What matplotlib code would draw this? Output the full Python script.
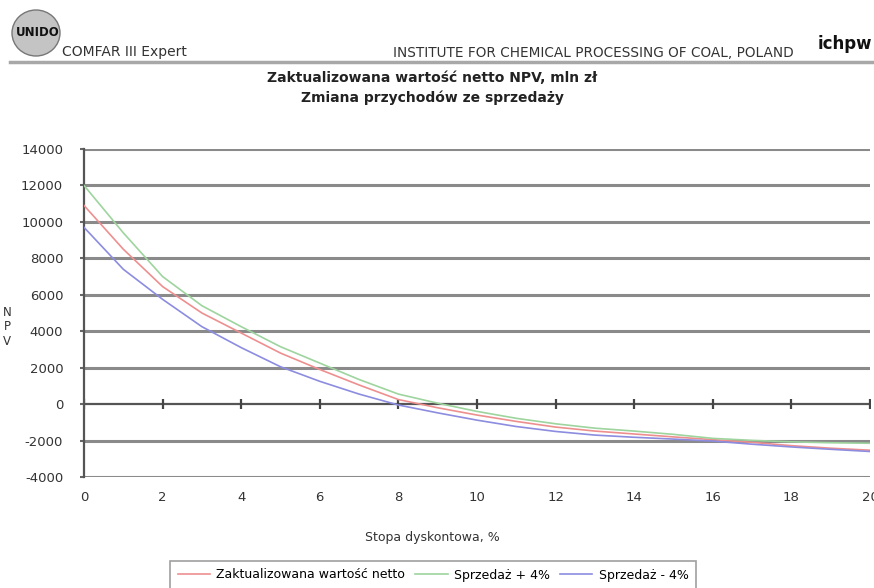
import matplotlib
matplotlib.use("Agg")
import matplotlib.pyplot as plt
from matplotlib.patches import Ellipse
from matplotlib.lines import Line2D

plt.rcParams['font.family'] = ['DejaVu Sans']

# ---- data ----
rates = [0, 1, 2, 3, 4, 5, 6, 7, 8, 9, 10, 11, 12, 13, 14, 15, 16, 17, 18, 19, 20]
npv_base = [10900, 8500, 6450, 5000, 3900, 2800, 1900, 1050, 250, -200, -600, -950,
            -1260, -1480, -1640, -1800, -1950, -2100, -2280, -2420, -2530]
npv_plus4 = [12000, 9400, 7000, 5400, 4250, 3150, 2250, 1350, 550, 50, -400, -780,
             -1080, -1320, -1480, -1660, -1880, -1990, -2070, -2120, -2150]
npv_minus4 = [9700, 7400, 5750, 4250, 3100, 2050, 1250, 550, -50, -480, -880, -1230,
              -1500, -1700, -1820, -1920, -2030, -2200, -2350, -2480, -2600]
labels = ['Zaktualizowana wartość netto', 'Sprzedaż + 4%', 'Sprzedaż - 4%']
colors = ['#ee8f8f', '#9ed49e', '#8c8ce0']
xticks = [0, 2, 4, 6, 8, 10, 12, 14, 16, 18, 20]
yticks = [-4000, -2000, 0, 2000, 4000, 6000, 8000, 10000, 12000, 14000]

W, H = 874, 588
fx = lambda px: px / W
fy = lambda py: 1 - py / H

fig = plt.figure(figsize=(8.74, 5.88), dpi=100)
ax = fig.add_axes([fx(84), fy(477), 786 / W, 328 / H])

for yv in yticks:
    if yv == 0:
        continue
    ax.axhline(yv, color='#8a8a8a', lw=2.2, zorder=1)
ax.axhline(0, color='#555555', lw=1.6, zorder=1)
ax.plot(xticks, [0] * len(xticks), linestyle='none', marker='|', ms=7, mew=1.6,
        color='#444444', zorder=2)

for ys, c, lab in zip([npv_base, npv_plus4, npv_minus4], colors, labels):
    ax.plot(rates, ys, color=c, lw=1.2, label=lab, zorder=3)

ax.set_xlim(0, 20)
ax.set_ylim(-4000, 14000)
ax.set_xticks(xticks)
ax.set_yticks(yticks)
ax.set_xticklabels([str(v) for v in xticks], fontsize=9.5, color='#333333')
ax.set_yticklabels([str(v) for v in yticks], fontsize=9.5, color='#333333')
ax.tick_params(axis='x', length=0, pad=10)
ax.tick_params(axis='y', length=3, width=1.5, color='#666666', pad=12)
for s in ['top', 'right', 'bottom']:
    ax.spines[s].set_visible(False)
ax.spines['left'].set_color('#555555')
ax.spines['left'].set_linewidth(1.6)

fig.text(fx(7), fy(327), 'N\nP\nV', fontsize=8.5, color='#333333',
         ha='center', va='center', linespacing=1.15)
fig.text(fx(432), fy(538), 'Stopa dyskontowa, %', fontsize=9, color='#333333',
         ha='center', va='center')

# titles
fig.text(fx(432), fy(78), 'Zaktualizowana wartość netto NPV, mln zł', fontsize=10,
         fontweight='bold', color='#222222', ha='center', va='center')
fig.text(fx(432), fy(98), 'Zmiana przychodów ze sprzedaży', fontsize=10,
         fontweight='bold', color='#222222', ha='center', va='center')

# header
fig.add_artist(Ellipse((fx(36), fy(33)), 48 / W, 46 / H, transform=fig.transFigure,
                       facecolor='#c4c4c4', edgecolor='#777777', lw=1))
fig.text(fx(38), fy(32), 'UNIDO', fontsize=8.5, fontweight='bold', color='#111111',
         ha='center', va='center')
fig.text(fx(62), fy(52), 'COMFAR III Expert', fontsize=10, color='#333333',
         ha='left', va='center')
fig.text(fx(393), fy(53), 'INSTITUTE FOR CHEMICAL PROCESSING OF COAL, POLAND',
         fontsize=9.8, color='#333333', ha='left', va='center')
fig.text(fx(845), fy(44), 'ichpw', fontsize=12, fontweight='bold', color='#111111',
         ha='center', va='center')
fig.add_artist(Line2D([fx(10), fx(874)], [fy(62), fy(62)], transform=fig.transFigure,
                      color='#a8a8a8', lw=2.5))

leg = ax.legend(loc='upper center', bbox_to_anchor=(fx(433), fy(561)),
                bbox_transform=fig.transFigure, ncol=3, fontsize=9, frameon=True,
                fancybox=False, edgecolor='#888888', handlelength=2.6,
                columnspacing=0.8, handletextpad=0.5, borderpad=0.6,
                borderaxespad=0)
leg.get_frame().set_linewidth(1.2)

fig.savefig('out.png', dpi=100, facecolor='white')
